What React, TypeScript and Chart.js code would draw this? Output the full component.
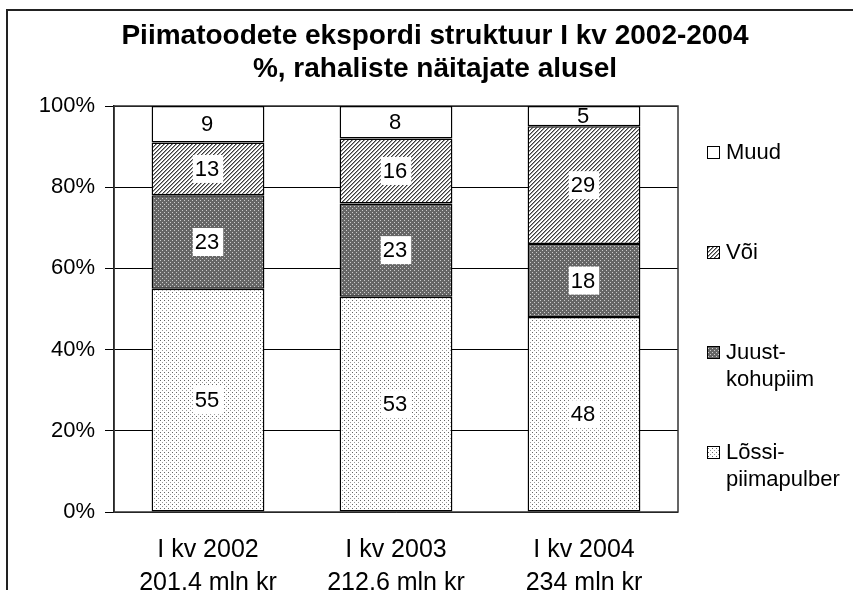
import React, { useEffect, useRef } from "react";
import { Chart, registerables } from "chart.js";
Chart.register(...registerables);

const categories = [
  ["I kv 2002", "201.4 mln kr"],
  ["I kv 2003", "212,6 mln kr"],
  ["I kv 2004", "234 mln kr"],
];
const seriesNames = ["Lõssi-piimapulber", "Juust-kohupiim", "Või", "Muud"];
const legendLines = [["Lõssi-", "piimapulber"], ["Juust-", "kohupiim"], ["Või"], ["Muud"]];
const lossi = [55, 53, 48];
const juust = [23, 23, 18];
const voi = [13, 16, 29];
const muud = [9, 8, 5];
const yMin = 0;
const yMax = 100;
const yStep = 20;
const titleLines = ["Piimatoodete ekspordi struktuur I kv 2002-2004", "%, rahaliste näitajate alusel"];

const FONT = "'Liberation Sans', Arial, sans-serif";

function makePattern(kind: string): CanvasPattern | string {
  if (kind === "white") return "#ffffff";
  const c = document.createElement("canvas");
  c.width = 4;
  c.height = 4;
  const g = c.getContext("2d")!;
  const px = (x: number, y: number, col: string) => {
    g.fillStyle = col;
    g.fillRect(x, y, 1, 1);
  };
  if (kind === "dots") {
    g.fillStyle = "#ffffff";
    g.fillRect(0, 0, 4, 4);
    px(0, 0, "#666666");
    px(2, 2, "#999999");
  } else if (kind === "dense") {
    g.fillStyle = "#666666";
    g.fillRect(0, 0, 4, 4);
    px(0, 0, "#cccccc");
    px(2, 2, "#cccccc");
  } else if (kind === "hatch") {
    g.fillStyle = "#ffffff";
    g.fillRect(0, 0, 4, 4);
    for (let i = 0; i < 4; i++) {
      px(i, 3 - i, "#3c3c3c");
      px((i + 1) % 4, 3 - i, "#9a9a9a");
    }
  }
  return g.createPattern(c, "repeat")!;
}

export default function App() {
  const ref = useRef<HTMLCanvasElement | null>(null);
  useEffect(() => {
    document.body.style.margin = "0";
    const canvas = ref.current!;
    const fills = [makePattern("dots"), makePattern("dense"), makePattern("hatch"), makePattern("white")];
    const values = [lossi, juust, voi, muud];

    const decor = {
      id: "decor",
      beforeDatasetsDraw(chart: any) {
        const { ctx, chartArea: a } = chart;
        ctx.save();
        ctx.strokeStyle = "#333";
        ctx.lineWidth = 1.5;
        ctx.strokeRect(a.left, a.top, a.right - a.left, a.bottom - a.top);
        ctx.restore();
      },
      afterDatasetsDraw(chart: any) {
        const { ctx } = chart;
        ctx.save();
        ctx.font = `22px ${FONT}`;
        ctx.textAlign = "center";
        ctx.textBaseline = "middle";
        chart.data.datasets.forEach((ds: any, d: number) => {
          const meta = chart.getDatasetMeta(d);
          meta.data.forEach((bar: any, i: number) => {
            const p = bar.getProps(["x", "y", "base"], true);
            const cy = (p.y + p.base) / 2;
            const t = String(ds.data[i]);
            const w = ctx.measureText(t).width;
            if (d !== 3) {
              ctx.fillStyle = "#fff";
              ctx.fillRect(p.x - w / 2 - 3, cy - 14, w + 6, 28);
            }
            ctx.fillStyle = "#000";
            ctx.fillText(t, p.x - 1, cy + 1);
          });
        });
        ctx.restore();
      },
      afterDraw(chart: any) {
        const { ctx, chartArea: a } = chart;
        ctx.save();
        ctx.strokeStyle = "#222";
        ctx.lineWidth = 2;
        ctx.strokeRect(7, 10, 1000, 1000);
        ctx.fillStyle = "#000";
        ctx.font = `bold 28px ${FONT}`;
        ctx.textAlign = "center";
        ctx.textBaseline = "middle";
        ctx.fillText(titleLines[0], 435, 36);
        ctx.fillText(titleLines[1], 435, 69);
        ctx.font = `22px ${FONT}`;
        ctx.textAlign = "left";
        const order = [3, 2, 1, 0];
        order.forEach((s, k) => {
          const y0 = a.top + 46 + k * 100;
          ctx.fillStyle = fills[s] as any;
          ctx.fillRect(707, y0 - 6, 12, 12);
          ctx.strokeStyle = "#000";
          ctx.lineWidth = 1;
          ctx.strokeRect(707.5, y0 - 5.5, 12, 12);
          ctx.fillStyle = "#000";
          legendLines[s].forEach((ln, j) => ctx.fillText(ln, 726, y0 + 1 + j * 27));
        });
        ctx.restore();
      },
    };

    const chart = new Chart(canvas, {
      type: "bar",
      data: {
        labels: categories as any,
        datasets: values.map((v, s) => ({
          label: seriesNames[s],
          data: v,
          backgroundColor: fills[s] as any,
          borderColor: "#000",
          borderWidth: 1.5,
          borderSkipped: false,
          categoryPercentage: 1,
          barPercentage: 0.6,
        })),
      },
      options: {
        animation: false,
        responsive: false,
        maintainAspectRatio: false,
        layout: { padding: { top: 106, right: 175, left: 0, bottom: 0 } },
        plugins: {
          legend: { display: false },
          title: { display: false },
          tooltip: { enabled: false },
        },
        scales: {
          x: {
            stacked: true,
            grid: { display: false, drawTicks: false },
            border: { display: false },
            ticks: {
              color: "#000",
              font: { size: 25, family: FONT, lineHeight: 1.32 },
              padding: 22,
              maxRotation: 0,
              autoSkip: false,
            },
            afterFit: (s: any) => {
              s.height = 78;
            },
          },
          y: {
            stacked: true,
            min: yMin,
            max: yMax,
            ticks: {
              stepSize: yStep,
              color: "#000",
              font: { size: 22, family: FONT },
              padding: 10,
              callback: (v: any) => v + "%",
            },
            grid: { color: "#000", lineWidth: 1, tickLength: 9, drawTicks: true },
            border: { display: true, color: "#000", width: 1.5 },
            afterFit: (s: any) => {
              s.width = 114;
            },
          },
        },
      },
      plugins: [decor],
    });
    return () => chart.destroy();
  }, []);
  return <canvas ref={ref} width={853} height={590} style={{ display: "block" }} />;
}
